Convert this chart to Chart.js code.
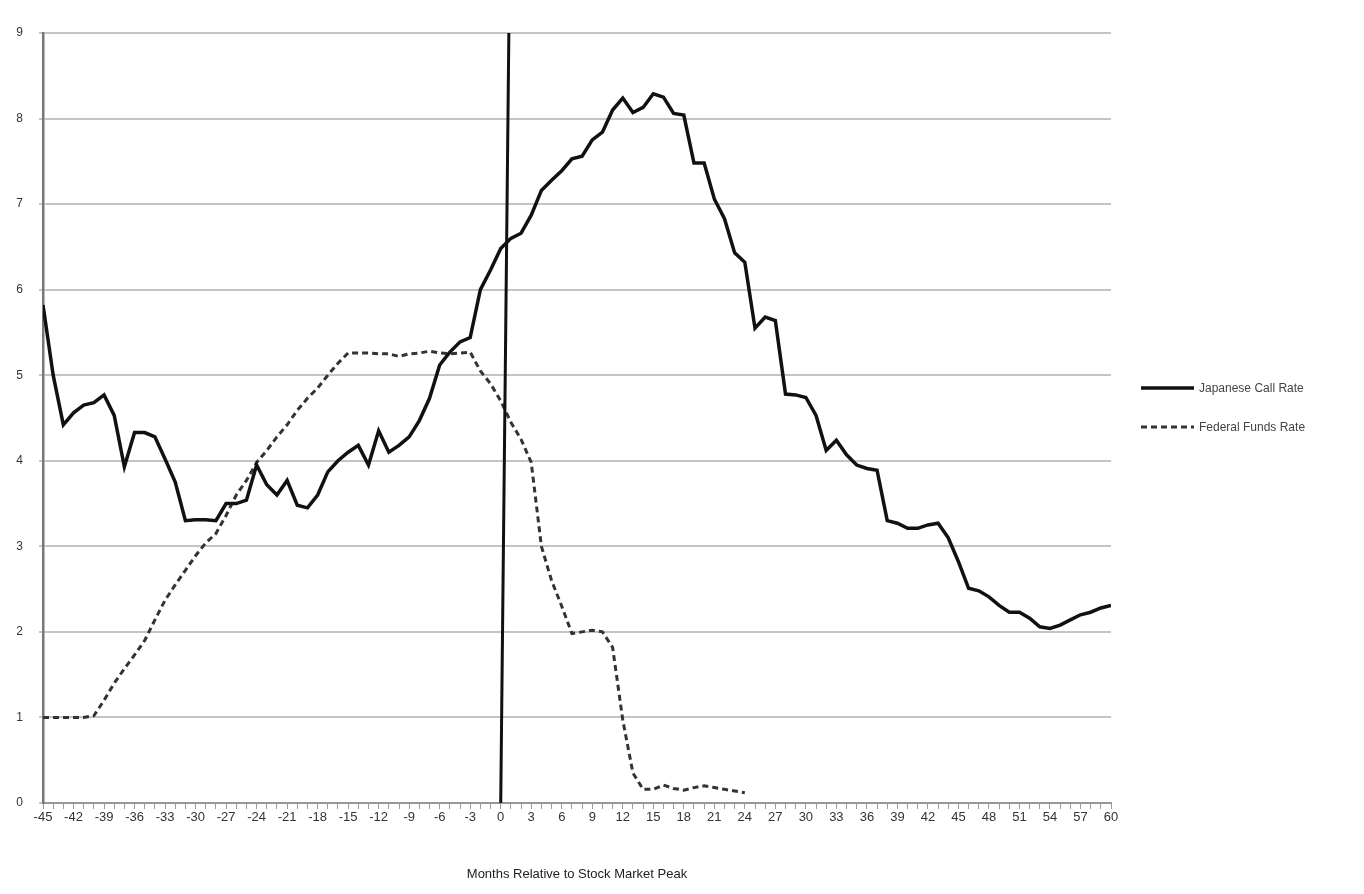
<!DOCTYPE html>
<html>
<head>
<meta charset="utf-8">
<script src="https://cdn.jsdelivr.net/npm/chart.js@4/dist/chart.umd.min.js"></script>
<style>
html,body{margin:0;padding:0;background:#fff;}
#wrap{width:1364px;height:894px;position:relative;}
</style>
</head>
<body>
<div id="wrap"><canvas id="c" width="1364" height="894"></canvas></div>
<script>
// Months relative to stock market peak
const japanMonths = [];
for (let m = -45; m <= 60; m++) japanMonths.push(m);
const fedMonths = japanMonths.filter(m => m <= 24);

const japanRate = [
5.82,5.0,4.42,4.56,4.65,4.68,4.77,4.53,3.93,4.33,
4.33,4.28,4.02,3.75,3.3,3.31,3.31,3.3,3.5,3.5,
3.54,3.95,3.72,3.6,3.77,3.48,3.45,3.6,3.87,4.0,
4.1,4.18,3.95,4.35,4.1,4.18,4.28,4.47,4.73,5.12,
5.27,5.39,5.44,6.0,6.23,6.48,6.6,6.66,6.87,7.16,
7.28,7.39,7.53,7.56,7.75,7.84,8.1,8.24,8.07,8.13,
8.29,8.25,8.06,8.04,7.48,7.48,7.06,6.83,6.43,6.32,
5.55,5.68,5.64,4.78,4.77,4.74,4.53,4.12,4.24,4.07,
3.95,3.91,3.89,3.3,3.27,3.21,3.21,3.25,3.27,3.1,
2.82,2.51,2.48,2.41,2.31,2.23,2.23,2.16,2.06,2.04,
2.08,2.14,2.2,2.23,2.28,2.31
];
const fedRate = [
1.0,1.0,1.0,1.0,1.0,1.02,1.2,1.4,1.57,1.73,
1.9,2.14,2.37,2.55,2.72,2.89,3.04,3.15,3.36,3.6,
3.77,3.98,4.12,4.28,4.42,4.59,4.73,4.85,5.0,5.14,
5.26,5.26,5.26,5.25,5.25,5.22,5.25,5.26,5.28,5.26,
5.25,5.26,5.27,5.05,4.9,4.7,4.45,4.25,3.98,3.0,
2.6,2.3,1.98,2.0,2.02,2.0,1.82,0.97,0.35,0.16,
0.16,0.21,0.17,0.15,0.18,0.2,0.18,0.16,0.14,0.12
];
// Peak marker line (x in months, y in percent)
const peakLineX = [0, 0.8];
const peakLineY = [0, 9];

const seriesNames = ['Japanese Call Rate', 'Federal Funds Rate'];
const xTitle = 'Months Relative to Stock Market Peak';

const FONT = '"Liberation Sans", Arial, sans-serif';

const legendPlugin = {
  id: 'customLegend',
  afterDraw(chart) {
    const ctx = chart.ctx;
    ctx.save();
    const items = [
      {y: 388, dash: [], w: 3.5, color: '#111'},
      {y: 427, dash: [6, 4], w: 3, color: '#333'}
    ];
    items.forEach((it, i) => {
      ctx.beginPath();
      ctx.setLineDash(it.dash);
      ctx.lineWidth = it.w;
      ctx.strokeStyle = it.color;
      ctx.moveTo(1141, it.y);
      ctx.lineTo(1194, it.y);
      ctx.stroke();
      ctx.setLineDash([]);
      ctx.fillStyle = '#444';
      ctx.font = '12px ' + FONT;
      ctx.textBaseline = 'middle';
      ctx.textAlign = 'left';
      ctx.fillText(seriesNames[i], 1199, it.y + 1);
    });
    ctx.restore();
  }
};

new Chart(document.getElementById('c'), {
  type: 'line',
  data: {
    datasets: [
      {
        label: seriesNames[0],
        data: japanMonths.map((m, i) => ({x: m, y: japanRate[i]})),
        borderColor: '#111',
        borderWidth: 3.5,
        pointRadius: 0,
        tension: 0,
        fill: false,
        order: 1
      },
      {
        label: seriesNames[1],
        data: fedMonths.map((m, i) => ({x: m, y: fedRate[i]})),
        borderColor: '#333',
        borderWidth: 3,
        borderDash: [6, 4],
        pointRadius: 0,
        tension: 0,
        fill: false,
        order: 2
      },
      {
        label: 'peak',
        data: peakLineX.map((x, i) => ({x: x, y: peakLineY[i]})),
        borderColor: '#111',
        borderWidth: 3,
        pointRadius: 0,
        fill: false,
        order: 0
      }
    ]
  },
  options: {
    responsive: false,
    animation: false,
    devicePixelRatio: 1,
    layout: {padding: {left: 0, right: 253, top: 33, bottom: 0}},
    plugins: {
      legend: {display: false},
      tooltip: {enabled: false}
    },
    scales: {
      x: {
        type: 'linear',
        min: -45,
        max: 60,
        afterFit(scale) { scale.height = 91; },
        afterBuildTicks(scale) {
          scale.ticks = japanMonths.map(m => ({value: m}));
        },
        ticks: {
          autoSkip: false,
          maxRotation: 0,
          minRotation: 0,
          padding: 1,
          color: '#333',
          font: {size: 13, family: FONT},
          callback: (v) => (v % 3 === 0 ? String(v) : '')
        },
        grid: {
          drawOnChartArea: false,
          drawTicks: true,
          tickLength: 6,
          color: '#999',
          lineWidth: 1
        },
        border: {display: true, color: '#999', width: 2},
        title: {
          display: true,
          text: xTitle,
          color: '#222',
          font: {size: 13, family: FONT},
          padding: {top: 0, bottom: 12}
        }
      },
      y: {
        min: 0,
        max: 9,
        afterFit(scale) { scale.width = 43; },
        ticks: {
          stepSize: 1,
          padding: 16,
          color: '#333',
          font: {size: 12, family: FONT}
        },
        grid: {
          color: '#c4c4c4',
          lineWidth: 2,
          tickLength: 4
        },
        border: {display: true, color: '#777', width: 2.5}
      }
    }
  },
  plugins: [legendPlugin]
});
</script>
</body>
</html>
